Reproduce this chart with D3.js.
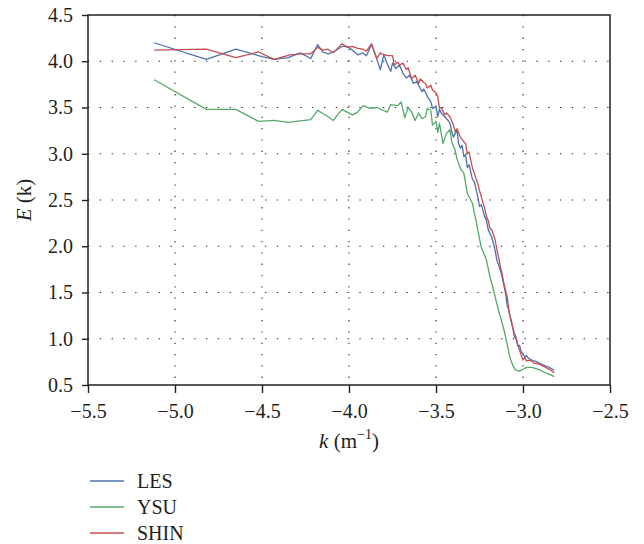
<!DOCTYPE html>
<html>
<head>
<meta charset="utf-8">
<script src="https://cdn.jsdelivr.net/npm/d3@7"></script>
<style>
  html, body { margin: 0; padding: 0; background: #fff; }
  text { font-family: "Liberation Serif", "DejaVu Serif", serif; fill: #231f20; }
</style>
</head>
<body>
<svg id="chart" width="644" height="544"></svg>
<script>
// ---- data ----
const seriesNames = ["LES", "YSU", "SHIN"];
const seriesColors = ["#4c72b0", "#55a868", "#c44e52"];
const xTicks = [-5.5, -5.0, -4.5, -4.0, -3.5, -3.0, -2.5];
const yTicks = [0.5, 1.0, 1.5, 2.0, 2.5, 3.0, 3.5, 4.0, 4.5];

const kLES = [-5.12,-4.82,-4.65,-4.50,-4.43,-4.35,-4.28,-4.22,-4.18,-4.15,-4.12,-4.09,-4.04,-4.01,-3.98,-3.95,-3.92,-3.90,-3.87,-3.84,-3.82,-3.80,-3.78,-3.76,-3.75,-3.73,-3.71,-3.69,-3.67,-3.65,-3.63,-3.61,-3.60,-3.58,-3.57,-3.55,-3.53,-3.52,-3.50,-3.49,-3.48,-3.47,-3.45,-3.43,-3.42,-3.41,-3.40,-3.38,-3.37,-3.36,-3.35,-3.34,-3.33,-3.32,-3.31,-3.29,-3.28,-3.26,-3.25,-3.24,-3.22,-3.21,-3.20,-3.18,-3.17,-3.16,-3.15,-3.13,-3.12,-3.11,-3.10,-3.09,-3.08,-3.07,-3.06,-3.05,-3.04,-3.03,-3.02,-3.01,-3.00,-2.99,-2.98,-2.97,-2.95,-2.92,-2.89,-2.86,-2.84,-2.82];
const eLES = [4.20,4.02,4.13,4.05,4.02,4.04,4.09,4.03,4.18,4.10,4.08,4.10,4.16,4.16,4.12,4.07,4.09,4.06,4.18,4.02,3.91,4.07,3.97,3.89,3.98,3.92,3.96,3.87,3.82,3.85,3.76,3.78,3.74,3.67,3.70,3.62,3.56,3.49,3.51,3.40,3.48,3.44,3.40,3.36,3.33,3.24,3.18,3.26,3.11,3.06,3.09,2.97,2.99,2.85,2.88,2.72,2.70,2.54,2.43,2.45,2.32,2.28,2.18,2.10,2.03,1.95,1.85,1.74,1.67,1.58,1.49,1.35,1.30,1.20,1.13,1.02,1.00,0.92,0.93,0.86,0.84,0.80,0.82,0.79,0.77,0.75,0.72,0.70,0.68,0.66];

const kYSU = [-5.12,-4.82,-4.65,-4.52,-4.43,-4.35,-4.22,-4.18,-4.12,-4.09,-4.04,-3.98,-3.95,-3.92,-3.88,-3.84,-3.78,-3.76,-3.72,-3.70,-3.68,-3.66,-3.64,-3.62,-3.60,-3.58,-3.56,-3.55,-3.53,-3.52,-3.50,-3.49,-3.48,-3.46,-3.44,-3.42,-3.41,-3.39,-3.38,-3.36,-3.34,-3.33,-3.32,-3.30,-3.29,-3.28,-3.27,-3.26,-3.25,-3.24,-3.22,-3.21,-3.20,-3.19,-3.18,-3.17,-3.16,-3.15,-3.14,-3.13,-3.11,-3.10,-3.09,-3.08,-3.07,-3.06,-3.05,-3.04,-3.02,-3.00,-2.98,-2.95,-2.93,-2.90,-2.87,-2.84,-2.82];
const eYSU = [3.80,3.48,3.48,3.35,3.36,3.34,3.37,3.47,3.40,3.36,3.48,3.42,3.45,3.52,3.49,3.50,3.45,3.53,3.52,3.56,3.39,3.50,3.45,3.36,3.44,3.38,3.40,3.49,3.47,3.31,3.35,3.23,3.33,3.11,3.22,3.26,3.13,3.04,2.95,2.84,2.79,2.68,2.57,2.50,2.46,2.36,2.28,2.18,2.08,1.99,1.90,1.85,1.76,1.67,1.60,1.53,1.45,1.38,1.30,1.24,1.10,1.02,0.93,0.84,0.77,0.72,0.68,0.66,0.65,0.67,0.69,0.69,0.68,0.66,0.63,0.61,0.59];

const kSHIN = [-5.12,-4.82,-4.65,-4.52,-4.43,-4.34,-4.28,-4.22,-4.18,-4.15,-4.12,-4.09,-4.04,-4.01,-3.98,-3.95,-3.92,-3.90,-3.87,-3.84,-3.82,-3.81,-3.78,-3.75,-3.74,-3.72,-3.71,-3.69,-3.67,-3.66,-3.64,-3.62,-3.60,-3.59,-3.57,-3.56,-3.55,-3.53,-3.52,-3.50,-3.49,-3.48,-3.47,-3.45,-3.44,-3.42,-3.40,-3.39,-3.38,-3.36,-3.34,-3.33,-3.32,-3.31,-3.30,-3.29,-3.28,-3.27,-3.26,-3.25,-3.24,-3.23,-3.22,-3.21,-3.20,-3.19,-3.18,-3.16,-3.15,-3.14,-3.13,-3.12,-3.11,-3.10,-3.09,-3.08,-3.07,-3.06,-3.05,-3.04,-3.03,-3.02,-3.01,-3.00,-2.99,-2.98,-2.96,-2.94,-2.90,-2.86,-2.84,-2.82];
const eSHIN = [4.12,4.13,4.04,4.10,4.02,4.07,4.08,4.08,4.15,4.12,4.13,4.09,4.19,4.15,4.16,4.14,4.13,4.11,4.19,4.03,4.09,4.08,4.06,4.06,3.96,3.99,3.96,3.98,3.91,3.93,3.81,3.85,3.76,3.81,3.77,3.76,3.71,3.74,3.69,3.66,3.62,3.49,3.50,3.42,3.44,3.40,3.31,3.24,3.27,3.18,3.13,3.11,3.00,3.02,2.93,2.84,2.79,2.73,2.68,2.60,2.54,2.47,2.41,2.32,2.28,2.19,2.18,2.07,1.96,1.88,1.78,1.70,1.60,1.52,1.45,1.28,1.22,1.13,1.06,1.02,0.93,0.88,0.82,0.77,0.80,0.76,0.77,0.74,0.72,0.68,0.66,0.63];

const seriesK = [kLES, kYSU, kSHIN];
const seriesE = [eLES, eYSU, eSHIN];

// ---- layout ----
const svg = d3.select("#chart");
const pL = 88, pR = 610, pT = 15, pB = 385;
const x = d3.scaleLinear().domain([-5.5, -2.5]).range([pL, pR]);
const y = d3.scaleLinear().domain([0.5, 4.5]).range([pB, pT]);
const fmt = d3.format(".1f");
const minus = v => fmt(v).replace("-", "\u2212");

// grid
const grid = svg.append("g");
grid.selectAll("line.vg").data(xTicks.slice(1, -1)).join("line")
  .attr("x1", d => x(d)).attr("x2", d => x(d))
  .attr("y1", pT).attr("y2", pB)
  .attr("stroke", "#222").attr("stroke-width", 1.1)
  .attr("stroke-dasharray", "1.3,10");
grid.selectAll("line.hg").data(yTicks.slice(1, -1)).join("line")
  .attr("x1", pL).attr("x2", pR)
  .attr("y1", d => y(d)).attr("y2", d => y(d))
  .attr("stroke", "#222").attr("stroke-width", 1.1)
  .attr("stroke-dasharray", "1.3,10.5");

// lines
const line = d3.line().x(d => x(d[0])).y(d => y(d[1]));
seriesNames.forEach((name, i) => {
  const pts = seriesK[i].map((k, j) => [k, seriesE[i][j]]);
  svg.append("path").datum(pts)
    .attr("d", line)
    .attr("fill", "none")
    .attr("stroke", seriesColors[i])
    .attr("stroke-width", 1.3)
    .attr("stroke-linejoin", "round");
});

// axes
const xAxis = d3.axisBottom(x).tickValues(xTicks).tickFormat(minus).tickSize(8).tickPadding(11);
const yAxis = d3.axisLeft(y).tickValues(yTicks).tickFormat(fmt).tickSize(6).tickPadding(9);
const gx = svg.append("g").attr("transform", `translate(0,${pB})`).call(xAxis);
const gy = svg.append("g").attr("transform", `translate(${pL},0)`).call(yAxis);
[gx, gy].forEach(g => {
  g.select(".domain").remove();
  g.selectAll(".tick line").attr("stroke", "#231f20").attr("stroke-width", 1.4);
  g.selectAll(".tick text").attr("font-size", 20).attr("font-family", "Liberation Serif, serif").attr("fill", "#231f20");
});

// frame
svg.append("rect").attr("x", pL).attr("y", pT)
  .attr("width", pR - pL).attr("height", pB - pT)
  .attr("fill", "none").attr("stroke", "#231f20").attr("stroke-width", 1.5);

// axis labels
const xl = svg.append("text").attr("x", (pL + pR) / 2).attr("y", 448)
  .attr("text-anchor", "middle").attr("font-size", 21);
xl.append("tspan").attr("font-style", "italic").text("k");
xl.append("tspan").text(" (m");
xl.append("tspan").attr("font-size", 14).attr("dy", -9).text("\u22121");
xl.append("tspan").attr("dy", 9).text(")");

const yl = svg.append("text").attr("transform", `translate(31,${(pT + pB) / 2}) rotate(-90)`)
  .attr("text-anchor", "middle").attr("font-size", 21);
yl.append("tspan").attr("font-style", "italic").text("E");
yl.append("tspan").text(" (k)");

// legend
const leg = svg.append("g");
seriesNames.forEach((name, i) => {
  const ly = 481 + i * 26;
  leg.append("line").attr("x1", 90).attr("x2", 124).attr("y1", ly).attr("y2", ly)
    .attr("stroke", seriesColors[i]).attr("stroke-width", 1.3);
  leg.append("text").attr("x", 137).attr("y", ly + 7).attr("font-size", 20).text(name);
});
</script>
</body>
</html>
